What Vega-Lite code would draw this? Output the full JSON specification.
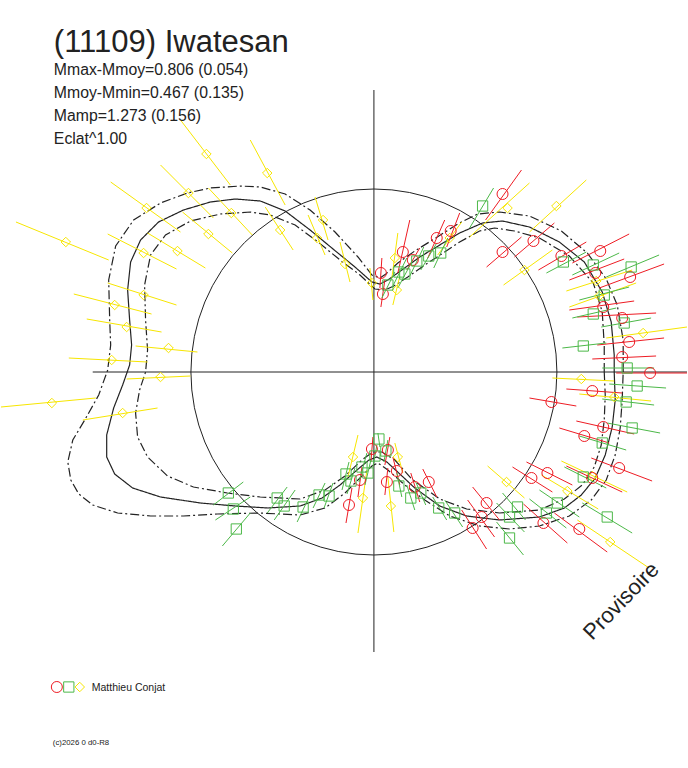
{
  "$schema": "https://vega.github.io/schema/vega-lite/v6.json",
  "width": 688,
  "height": 768,
  "autosize": {"type": "fit", "contains": "padding"},
  "padding": 0,
  "background": "white",
  "config": {"view": {"stroke": null}, "font": "Liberation Sans"},
  "datasets": {
    "obs": [
      {"s":3,"x":-1.68,"y":2.18,"ax":-1.94,"ay":2.52,"bx":-1.44,"by":1.87},
      {"s":3,"x":-1.07,"y":1.99,"ax":-1.24,"ay":2.32,"bx":-0.89,"by":1.67},
      {"s":3,"x":-1.86,"y":1.79,"ax":-2.14,"ay":2.07,"bx":-1.61,"by":1.54},
      {"s":3,"x":-2.28,"y":1.64,"ax":-2.64,"ay":1.90,"bx":-1.94,"by":1.40},
      {"s":3,"x":-3.09,"y":1.30,"ax":-3.59,"ay":1.50,"bx":-2.66,"by":1.12},
      {"s":3,"x":-1.43,"y":1.59,"ax":-1.66,"ay":1.84,"bx":-1.22,"by":1.37},
      {"s":3,"x":-1.66,"y":1.38,"ax":-1.92,"ay":1.60,"bx":-1.42,"by":1.19},
      {"s":3,"x":-2.31,"y":1.19,"ax":-2.67,"ay":1.38,"bx":-1.98,"by":1.03},
      {"s":3,"x":-1.97,"y":1.21,"ax":-2.27,"ay":1.39,"bx":-1.69,"by":1.04},
      {"s":3,"x":-0.94,"y":1.42,"ax":-1.09,"ay":1.65,"bx":-0.81,"by":1.22},
      {"s":3,"x":-0.51,"y":1.52,"ax":-0.59,"ay":1.75,"bx":-0.46,"by":1.32},
      {"s":3,"x":-0.57,"y":1.34,"ax":-0.66,"ay":1.57,"bx":-0.49,"by":1.17},
      {"s":3,"x":-0.29,"y":1.08,"ax":-0.34,"ay":1.30,"bx":-0.24,"by":0.90},
      {"s":3,"x":-0.02,"y":0.89,"ax":-0.04,"ay":1.04,"bx":-0.01,"by":0.72},
      {"s":3,"x":-2.31,"y":0.77,"ax":-2.67,"ay":0.89,"bx":-1.98,"by":0.67},
      {"s":3,"x":-2.60,"y":0.67,"ax":-3.01,"ay":0.78,"bx":-2.23,"by":0.58},
      {"s":3,"x":-2.48,"y":0.45,"ax":-2.88,"ay":0.53,"bx":-2.13,"by":0.40},
      {"s":3,"x":-2.06,"y":0.24,"ax":-2.39,"ay":0.26,"bx":-1.77,"by":0.20},
      {"s":3,"x":-2.63,"y":0.12,"ax":-3.06,"ay":0.14,"bx":-2.27,"by":0.10},
      {"s":3,"x":-2.14,"y":-0.05,"ax":-2.48,"ay":-0.07,"bx":-1.84,"by":-0.04},
      {"s":3,"x":-3.23,"y":-0.31,"ax":-3.74,"ay":-0.35,"bx":-2.79,"by":-0.26},
      {"s":3,"x":-2.52,"y":-0.41,"ax":-2.92,"ay":-0.48,"bx":-2.17,"by":-0.36},
      {"s":3,"x":0.23,"y":0.82,"ax":0.26,"ay":0.96,"bx":0.19,"by":0.67},
      {"s":3,"x":0.21,"y":1.14,"ax":0.24,"ay":1.39,"bx":0.18,"by":0.94},
      {"s":3,"x":1.34,"y":1.64,"ax":1.56,"ay":1.89,"bx":0.96,"by":1.35},
      {"s":3,"x":0.76,"y":1.34,"ax":0.88,"ay":1.50,"bx":0.64,"by":1.17},
      {"s":3,"x":1.83,"y":1.66,"ax":2.13,"ay":1.92,"bx":1.56,"by":1.40},
      {"s":3,"x":1.51,"y":1.02,"ax":1.79,"ay":1.22,"bx":1.30,"by":0.87},
      {"s":3,"x":2.23,"y":0.91,"ax":1.93,"ay":0.81,"bx":2.59,"by":1.02},
      {"s":3,"x":2.26,"y":0.76,"ax":1.96,"ay":0.65,"bx":2.63,"by":0.89},
      {"s":3,"x":2.70,"y":0.39,"ax":2.33,"ay":0.34,"bx":3.14,"by":0.45},
      {"s":3,"x":2.08,"y":-0.07,"ax":1.79,"ay":-0.06,"bx":2.41,"by":-0.09},
      {"s":3,"x":2.41,"y":-0.25,"ax":2.06,"ay":-0.22,"bx":2.78,"by":-0.29},
      {"s":3,"x":2.19,"y":-1.04,"ax":1.88,"ay":-0.89,"bx":2.54,"by":-1.20},
      {"s":3,"x":1.33,"y":-1.10,"ax":1.14,"ay":-0.94,"bx":1.51,"by":-1.26},
      {"s":3,"x":1.94,"y":-1.19,"ax":1.68,"ay":-1.03,"bx":2.25,"by":-1.37},
      {"s":3,"x":2.37,"y":-1.70,"ax":2.04,"ay":-1.48,"bx":2.76,"by":-1.96},
      {"s":3,"x":-0.21,"y":-0.85,"ax":-0.16,"ay":-0.63,"bx":-0.26,"by":-1.05},
      {"s":3,"x":-0.11,"y":-1.26,"ax":-0.07,"ay":-0.98,"bx":-0.16,"by":-1.61},
      {"s":3,"x":0.24,"y":-0.85,"ax":0.21,"ay":-0.71,"bx":0.29,"by":-1.01},
      {"s":3,"x":0.17,"y":-1.34,"ax":0.14,"ay":-1.05,"bx":0.20,"by":-1.60},
      {"s":1,"x":0.07,"y":0.99,"ax":0.08,"ay":1.14,"bx":0.06,"by":0.84},
      {"s":1,"x":0.09,"y":0.78,"ax":0.11,"ay":0.92,"bx":0.07,"by":0.65},
      {"s":1,"x":0.29,"y":1.20,"ax":0.36,"ay":1.52,"bx":0.24,"by":0.99},
      {"s":1,"x":0.39,"y":1.12,"ax":0.46,"ay":1.24,"bx":0.33,"by":1.02},
      {"s":1,"x":0.63,"y":1.34,"ax":0.71,"ay":1.52,"bx":0.54,"by":1.14},
      {"s":1,"x":0.77,"y":1.41,"ax":0.86,"ay":1.59,"bx":0.73,"by":1.25},
      {"s":1,"x":1.29,"y":1.78,"ax":1.48,"ay":2.02,"bx":1.12,"by":1.52},
      {"s":1,"x":1.29,"y":1.20,"ax":1.48,"ay":1.35,"bx":1.13,"by":1.05},
      {"s":1,"x":1.60,"y":1.31,"ax":1.81,"ay":1.49,"bx":1.41,"by":1.15},
      {"s":1,"x":1.88,"y":1.16,"ax":2.13,"ay":1.30,"bx":1.65,"by":1.02},
      {"s":1,"x":2.27,"y":1.21,"ax":2.56,"ay":1.38,"bx":1.99,"by":1.09},
      {"s":1,"x":2.22,"y":0.99,"ax":2.51,"ay":1.13,"bx":1.96,"by":0.92},
      {"s":1,"x":2.57,"y":0.95,"ax":2.91,"ay":1.08,"bx":2.26,"by":0.84},
      {"s":1,"x":2.30,"y":0.65,"ax":1.96,"ay":0.62,"bx":2.61,"by":0.71},
      {"s":1,"x":2.49,"y":0.54,"ax":2.04,"ay":0.55,"bx":2.83,"by":0.59},
      {"s":1,"x":2.56,"y":0.30,"ax":2.24,"ay":0.27,"bx":2.91,"by":0.34},
      {"s":1,"x":2.49,"y":0.15,"ax":2.19,"ay":0.13,"bx":2.83,"by":0.16},
      {"s":1,"x":2.77,"y":-0.01,"ax":2.43,"ay":-0.01,"bx":3.14,"by":-0.01},
      {"s":1,"x":2.19,"y":-0.19,"ax":1.93,"ay":-0.17,"bx":2.49,"by":-0.21},
      {"s":1,"x":1.78,"y":-0.30,"ax":1.56,"ay":-0.26,"bx":2.03,"by":-0.34},
      {"s":1,"x":2.30,"y":-0.55,"ax":2.03,"ay":-0.49,"bx":2.61,"by":-0.62},
      {"s":1,"x":2.11,"y":-0.64,"ax":1.86,"ay":-0.56,"bx":2.36,"by":-0.71},
      {"s":1,"x":2.46,"y":-0.96,"ax":2.18,"ay":-0.86,"bx":2.79,"by":-1.09},
      {"s":1,"x":2.19,"y":-1.06,"ax":1.93,"ay":-0.94,"bx":2.49,"by":-1.20},
      {"s":1,"x":1.74,"y":-1.01,"ax":1.53,"ay":-0.90,"bx":1.99,"by":-1.13},
      {"s":1,"x":1.58,"y":-1.06,"ax":1.39,"ay":-0.95,"bx":1.79,"by":-1.20},
      {"s":1,"x":2.06,"y":-1.57,"ax":1.81,"ay":-1.41,"bx":2.34,"by":-1.80},
      {"s":1,"x":1.70,"y":-1.51,"ax":1.50,"ay":-1.32,"bx":1.94,"by":-1.71},
      {"s":1,"x":1.13,"y":-1.31,"ax":0.99,"ay":-1.15,"bx":1.26,"by":-1.48},
      {"s":1,"x":1.08,"y":-1.45,"ax":0.94,"ay":-1.28,"bx":1.21,"by":-1.65},
      {"s":1,"x":0.99,"y":-1.56,"ax":0.88,"ay":-1.38,"bx":1.13,"by":-1.77},
      {"s":1,"x":-0.25,"y":-1.33,"ax":-0.22,"ay":-1.16,"bx":-0.28,"by":-1.51},
      {"s":1,"x":-0.14,"y":-1.08,"ax":-0.12,"ay":-0.95,"bx":-0.16,"by":-1.25},
      {"s":1,"x":-0.02,"y":-0.77,"ax":-0.01,"ay":-0.65,"bx":-0.03,"by":-0.90},
      {"s":1,"x":0.14,"y":-0.78,"ax":0.16,"ay":-0.65,"bx":0.11,"by":-0.93},
      {"s":1,"x":0.13,"y":-1.10,"ax":0.14,"ay":-0.96,"bx":0.11,"by":-1.23},
      {"s":1,"x":0.23,"y":-0.99,"ax":0.19,"ay":-0.85,"bx":0.26,"by":-1.13},
      {"s":1,"x":0.41,"y":-1.15,"ax":0.37,"ay":-1.01,"bx":0.46,"by":-1.30},
      {"s":1,"x":0.55,"y":-1.10,"ax":0.49,"ay":-0.97,"bx":0.63,"by":-1.25},
      {"s":2,"x":0.14,"y":0.87,"ax":0.21,"ay":1.00,"bx":0.08,"by":0.74},
      {"s":2,"x":0.25,"y":1.00,"ax":0.33,"ay":1.14,"bx":0.18,"by":0.84},
      {"s":2,"x":0.31,"y":0.98,"ax":0.38,"ay":1.10,"bx":0.24,"by":0.84},
      {"s":2,"x":0.43,"y":1.11,"ax":0.50,"ay":1.25,"bx":0.36,"by":0.96},
      {"s":2,"x":0.55,"y":1.16,"ax":0.63,"ay":1.29,"bx":0.47,"by":1.02},
      {"s":2,"x":0.67,"y":1.19,"ax":0.74,"ay":1.34,"bx":0.60,"by":1.04},
      {"s":2,"x":1.09,"y":1.66,"ax":1.20,"ay":1.84,"bx":0.96,"by":1.44},
      {"s":2,"x":1.90,"y":1.10,"ax":2.13,"ay":1.20,"bx":1.73,"by":0.99},
      {"s":2,"x":2.20,"y":1.07,"ax":2.46,"ay":1.19,"bx":1.99,"by":0.97},
      {"s":2,"x":2.58,"y":1.05,"ax":2.86,"ay":1.17,"bx":2.33,"by":0.95},
      {"s":2,"x":2.31,"y":0.77,"ax":2.56,"ay":0.85,"bx":2.06,"by":0.72},
      {"s":2,"x":2.20,"y":0.58,"ax":2.43,"ay":0.64,"bx":1.99,"by":0.54},
      {"s":2,"x":2.51,"y":0.49,"ax":2.78,"ay":0.54,"bx":2.28,"by":0.45},
      {"s":2,"x":2.10,"y":0.26,"ax":2.33,"ay":0.29,"bx":1.89,"by":0.24},
      {"s":2,"x":2.54,"y":0.04,"ax":2.81,"ay":0.04,"bx":2.29,"by":0.04},
      {"s":2,"x":2.64,"y":-0.14,"ax":2.93,"ay":-0.16,"bx":2.36,"by":-0.12},
      {"s":2,"x":2.53,"y":-0.30,"ax":2.81,"ay":-0.33,"bx":2.29,"by":-0.27},
      {"s":2,"x":2.59,"y":-0.56,"ax":2.87,"ay":-0.61,"bx":2.34,"by":-0.51},
      {"s":2,"x":2.29,"y":-0.71,"ax":2.53,"ay":-0.78,"bx":2.06,"by":-0.64},
      {"s":2,"x":2.10,"y":-1.05,"ax":2.33,"ay":-1.16,"bx":1.91,"by":-0.95},
      {"s":2,"x":1.84,"y":-1.31,"ax":2.06,"ay":-1.45,"bx":1.66,"by":-1.18},
      {"s":2,"x":2.34,"y":-1.45,"ax":2.59,"ay":-1.61,"bx":2.09,"by":-1.31},
      {"s":2,"x":1.73,"y":-1.41,"ax":1.93,"ay":-1.56,"bx":1.56,"by":-1.27},
      {"s":2,"x":1.44,"y":-1.35,"ax":1.52,"ay":-1.48,"bx":1.29,"by":-1.21},
      {"s":2,"x":1.36,"y":-1.45,"ax":1.51,"ay":-1.60,"bx":1.23,"by":-1.31},
      {"s":2,"x":1.36,"y":-1.66,"ax":1.50,"ay":-1.83,"bx":1.23,"by":-1.50},
      {"s":2,"x":0.81,"y":-1.41,"ax":0.89,"ay":-1.55,"bx":0.71,"by":-1.28},
      {"s":2,"x":0.65,"y":-1.36,"ax":0.73,"ay":-1.48,"bx":0.59,"by":-1.25},
      {"s":2,"x":0.47,"y":-1.21,"ax":0.52,"ay":-1.33,"bx":0.42,"by":-1.10},
      {"s":2,"x":0.37,"y":-1.26,"ax":0.41,"ay":-1.38,"bx":0.33,"by":-1.13},
      {"s":2,"x":0.25,"y":-1.14,"ax":0.28,"ay":-1.25,"bx":0.23,"by":-1.01},
      {"s":2,"x":0.12,"y":-0.79,"ax":0.14,"ay":-0.68,"bx":0.10,"by":-0.90},
      {"s":2,"x":0.05,"y":-0.67,"ax":0.04,"ay":-0.61,"bx":0.06,"by":-0.75},
      {"s":2,"x":0.01,"y":-0.84,"ax":0.03,"ay":-0.73,"bx":-0.01,"by":-0.95},
      {"s":2,"x":-0.06,"y":-1.01,"ax":-0.03,"ay":-0.88,"bx":-0.09,"by":-1.13},
      {"s":2,"x":-0.12,"y":-0.95,"ax":-0.07,"ay":-0.81,"bx":-0.15,"by":-1.10},
      {"s":2,"x":-0.23,"y":-1.09,"ax":-0.19,"ay":-0.96,"bx":-0.27,"by":-1.22},
      {"s":2,"x":-0.28,"y":-1.02,"ax":-0.25,"ay":-0.90,"bx":-0.32,"by":-1.18},
      {"s":2,"x":-0.45,"y":-1.24,"ax":-0.41,"ay":-1.11,"bx":-0.50,"by":-1.36},
      {"s":2,"x":-0.55,"y":-1.23,"ax":-0.49,"ay":-1.11,"bx":-0.61,"by":-1.36},
      {"s":2,"x":-0.71,"y":-1.35,"ax":-0.64,"ay":-1.23,"bx":-0.77,"by":-1.50},
      {"s":2,"x":-0.90,"y":-1.34,"ax":-0.79,"ay":-1.18,"bx":-1.00,"by":-1.48},
      {"s":2,"x":-0.97,"y":-1.26,"ax":-0.87,"ay":-1.15,"bx":-1.07,"by":-1.41},
      {"s":2,"x":-1.46,"y":-1.21,"ax":-1.31,"ay":-1.10,"bx":-1.61,"by":-1.33},
      {"s":2,"x":-1.41,"y":-1.37,"ax":-1.24,"ay":-1.25,"bx":-1.59,"by":-1.48},
      {"s":2,"x":-1.38,"y":-1.57,"ax":-1.24,"ay":-1.41,"bx":-1.52,"by":-1.74}
    ],
    "curves": [
      {"c":"mid","i":0,"x":2.41,"y":0},{"c":"mid","i":1,"x":2.41,"y":0.17},{"c":"mid","i":2,"x":2.38,"y":0.50},{"c":"mid","i":3,"x":2.29,"y":0.80},
      {"c":"mid","i":4,"x":2.11,"y":1.10},{"c":"mid","i":5,"x":1.86,"y":1.30},{"c":"mid","i":6,"x":1.56,"y":1.45},{"c":"mid","i":7,"x":1.29,"y":1.51},
      {"c":"mid","i":8,"x":1.09,"y":1.49},{"c":"mid","i":9,"x":0.86,"y":1.39},{"c":"mid","i":10,"x":0.66,"y":1.27},{"c":"mid","i":11,"x":0.46,"y":1.15},
      {"c":"mid","i":12,"x":0.28,"y":1.02},{"c":"mid","i":13,"x":0.14,"y":0.92},{"c":"mid","i":14,"x":0.06,"y":0.88},{"c":"mid","i":15,"x":-0.02,"y":0.90},
      {"c":"mid","i":16,"x":-0.19,"y":1.05},{"c":"mid","i":17,"x":-0.41,"y":1.23},{"c":"mid","i":18,"x":-0.64,"y":1.42},{"c":"mid","i":19,"x":-0.89,"y":1.61},
      {"c":"mid","i":20,"x":-1.14,"y":1.71},{"c":"mid","i":21,"x":-1.39,"y":1.73},{"c":"mid","i":22,"x":-1.64,"y":1.70},{"c":"mid","i":23,"x":-1.91,"y":1.62},
      {"c":"mid","i":24,"x":-2.16,"y":1.50},{"c":"mid","i":25,"x":-2.34,"y":1.32},{"c":"mid","i":26,"x":-2.44,"y":1.10},{"c":"mid","i":27,"x":-2.47,"y":0.82},
      {"c":"mid","i":28,"x":-2.45,"y":0.52},{"c":"mid","i":29,"x":-2.43,"y":0.27},{"c":"mid","i":30,"x":-2.45,"y":0.07},{"c":"mid","i":31,"x":-2.52,"y":-0.13},
      {"c":"mid","i":32,"x":-2.61,"y":-0.36},{"c":"mid","i":33,"x":-2.68,"y":-0.63},{"c":"mid","i":34,"x":-2.68,"y":-0.85},{"c":"mid","i":35,"x":-2.60,"y":-1.02},
      {"c":"mid","i":36,"x":-2.42,"y":-1.16},{"c":"mid","i":37,"x":-2.14,"y":-1.25},{"c":"mid","i":38,"x":-1.74,"y":-1.31},{"c":"mid","i":39,"x":-1.39,"y":-1.34},
      {"c":"mid","i":40,"x":-1.06,"y":-1.36},{"c":"mid","i":41,"x":-0.74,"y":-1.34},{"c":"mid","i":42,"x":-0.52,"y":-1.26},{"c":"mid","i":43,"x":-0.34,"y":-1.13},
      {"c":"mid","i":44,"x":-0.17,"y":-0.98},{"c":"mid","i":45,"x":-0.05,"y":-0.88},{"c":"mid","i":46,"x":0.03,"y":-0.85},{"c":"mid","i":47,"x":0.13,"y":-0.90},
      {"c":"mid","i":48,"x":0.26,"y":-1.02},{"c":"mid","i":49,"x":0.41,"y":-1.16},{"c":"mid","i":50,"x":0.66,"y":-1.34},{"c":"mid","i":51,"x":0.93,"y":-1.44},
      {"c":"mid","i":52,"x":1.26,"y":-1.48},{"c":"mid","i":53,"x":1.66,"y":-1.45},{"c":"mid","i":54,"x":1.91,"y":-1.36},{"c":"mid","i":55,"x":2.08,"y":-1.23},
      {"c":"mid","i":56,"x":2.22,"y":-1.06},{"c":"mid","i":57,"x":2.32,"y":-0.83},{"c":"mid","i":58,"x":2.39,"y":-0.55},{"c":"mid","i":59,"x":2.42,"y":-0.28},
      {"c":"mid","i":60,"x":2.41,"y":0},
      {"c":"hi","i":0,"x":2.50,"y":0},{"c":"hi","i":1,"x":2.50,"y":0.32},{"c":"hi","i":2,"x":2.44,"y":0.67},{"c":"hi","i":3,"x":2.33,"y":0.93},
      {"c":"hi","i":4,"x":2.14,"y":1.19},{"c":"hi","i":5,"x":1.88,"y":1.41},{"c":"hi","i":6,"x":1.56,"y":1.56},{"c":"hi","i":7,"x":1.26,"y":1.60},
      {"c":"hi","i":8,"x":1.04,"y":1.58},{"c":"hi","i":9,"x":0.84,"y":1.48},{"c":"hi","i":10,"x":0.62,"y":1.34},{"c":"hi","i":11,"x":0.41,"y":1.21},
      {"c":"hi","i":12,"x":0.24,"y":1.09},{"c":"hi","i":13,"x":0.12,"y":0.98},{"c":"hi","i":14,"x":0.06,"y":0.94},{"c":"hi","i":15,"x":-0.02,"y":0.97},
      {"c":"hi","i":16,"x":-0.16,"y":1.15},{"c":"hi","i":17,"x":-0.39,"y":1.40},{"c":"hi","i":18,"x":-0.64,"y":1.62},{"c":"hi","i":19,"x":-0.89,"y":1.78},
      {"c":"hi","i":20,"x":-1.14,"y":1.85},{"c":"hi","i":21,"x":-1.34,"y":1.86},{"c":"hi","i":22,"x":-1.64,"y":1.84},{"c":"hi","i":23,"x":-1.87,"y":1.79},
      {"c":"hi","i":24,"x":-2.14,"y":1.69},{"c":"hi","i":25,"x":-2.41,"y":1.52},{"c":"hi","i":26,"x":-2.59,"y":1.26},{"c":"hi","i":27,"x":-2.66,"y":0.92},
      {"c":"hi","i":28,"x":-2.65,"y":0.52},{"c":"hi","i":29,"x":-2.64,"y":0.27},{"c":"hi","i":30,"x":-2.67,"y":0.02},{"c":"hi","i":31,"x":-2.76,"y":-0.23},
      {"c":"hi","i":32,"x":-2.90,"y":-0.48},{"c":"hi","i":33,"x":-3.02,"y":-0.68},{"c":"hi","i":34,"x":-3.07,"y":-0.90},{"c":"hi","i":35,"x":-3.04,"y":-1.08},
      {"c":"hi","i":36,"x":-2.96,"y":-1.22},{"c":"hi","i":37,"x":-2.82,"y":-1.33},{"c":"hi","i":38,"x":-2.57,"y":-1.41},{"c":"hi","i":39,"x":-2.24,"y":-1.44},
      {"c":"hi","i":40,"x":-1.91,"y":-1.44},{"c":"hi","i":41,"x":-1.57,"y":-1.42},{"c":"hi","i":42,"x":-1.14,"y":-1.41},{"c":"hi","i":43,"x":-0.74,"y":-1.43},
      {"c":"hi","i":44,"x":-0.49,"y":-1.36},{"c":"hi","i":45,"x":-0.29,"y":-1.21},{"c":"hi","i":46,"x":-0.12,"y":-1.04},{"c":"hi","i":47,"x":-0.02,"y":-0.94},
      {"c":"hi","i":48,"x":0.04,"y":-0.91},{"c":"hi","i":49,"x":0.14,"y":-0.98},{"c":"hi","i":50,"x":0.31,"y":-1.13},{"c":"hi","i":51,"x":0.51,"y":-1.28},
      {"c":"hi","i":52,"x":0.76,"y":-1.44},{"c":"hi","i":53,"x":1.06,"y":-1.54},{"c":"hi","i":54,"x":1.36,"y":-1.57},{"c":"hi","i":55,"x":1.66,"y":-1.54},
      {"c":"hi","i":56,"x":1.96,"y":-1.44},{"c":"hi","i":57,"x":2.18,"y":-1.28},{"c":"hi","i":58,"x":2.33,"y":-1.08},{"c":"hi","i":59,"x":2.42,"y":-0.83},
      {"c":"hi","i":60,"x":2.47,"y":-0.56},{"c":"hi","i":61,"x":2.49,"y":-0.28},{"c":"hi","i":62,"x":2.50,"y":0},
      {"c":"lo","i":0,"x":2.31,"y":0},{"c":"lo","i":1,"x":2.31,"y":0.27},{"c":"lo","i":2,"x":2.29,"y":0.60},{"c":"lo","i":3,"x":2.20,"y":0.89},
      {"c":"lo","i":4,"x":1.96,"y":1.16},{"c":"lo","i":5,"x":1.66,"y":1.34},{"c":"lo","i":6,"x":1.41,"y":1.41},{"c":"lo","i":7,"x":1.21,"y":1.44},
      {"c":"lo","i":8,"x":1.06,"y":1.41},{"c":"lo","i":9,"x":0.86,"y":1.30},{"c":"lo","i":10,"x":0.68,"y":1.18},{"c":"lo","i":11,"x":0.51,"y":1.07},
      {"c":"lo","i":12,"x":0.34,"y":0.95},{"c":"lo","i":13,"x":0.20,"y":0.86},{"c":"lo","i":14,"x":0.11,"y":0.82},{"c":"lo","i":15,"x":0.01,"y":0.83},
      {"c":"lo","i":16,"x":-0.14,"y":0.97},{"c":"lo","i":17,"x":-0.34,"y":1.12},{"c":"lo","i":18,"x":-0.56,"y":1.30},{"c":"lo","i":19,"x":-0.79,"y":1.47},
      {"c":"lo","i":20,"x":-1.04,"y":1.57},{"c":"lo","i":21,"x":-1.24,"y":1.60},{"c":"lo","i":22,"x":-1.54,"y":1.58},{"c":"lo","i":23,"x":-1.84,"y":1.51},
      {"c":"lo","i":24,"x":-2.09,"y":1.37},{"c":"lo","i":25,"x":-2.24,"y":1.17},{"c":"lo","i":26,"x":-2.30,"y":0.87},{"c":"lo","i":27,"x":-2.29,"y":0.52},
      {"c":"lo","i":28,"x":-2.27,"y":0.22},{"c":"lo","i":29,"x":-2.29,"y":0},{"c":"lo","i":30,"x":-2.35,"y":-0.18},{"c":"lo","i":31,"x":-2.39,"y":-0.41},
      {"c":"lo","i":32,"x":-2.37,"y":-0.65},{"c":"lo","i":33,"x":-2.27,"y":-0.85},{"c":"lo","i":34,"x":-2.07,"y":-1.04},{"c":"lo","i":35,"x":-1.81,"y":-1.15},
      {"c":"lo","i":36,"x":-1.47,"y":-1.21},{"c":"lo","i":37,"x":-1.14,"y":-1.25},{"c":"lo","i":38,"x":-0.74,"y":-1.27},{"c":"lo","i":39,"x":-0.49,"y":-1.18},
      {"c":"lo","i":40,"x":-0.29,"y":-1.04},{"c":"lo","i":41,"x":-0.12,"y":-0.88},{"c":"lo","i":42,"x":-0.01,"y":-0.80},{"c":"lo","i":43,"x":0.08,"y":-0.80},
      {"c":"lo","i":44,"x":0.21,"y":-0.88},{"c":"lo","i":45,"x":0.38,"y":-1.07},{"c":"lo","i":46,"x":0.66,"y":-1.27},{"c":"lo","i":47,"x":0.93,"y":-1.37},
      {"c":"lo","i":48,"x":1.26,"y":-1.41},{"c":"lo","i":49,"x":1.66,"y":-1.38},{"c":"lo","i":50,"x":1.91,"y":-1.27},{"c":"lo","i":51,"x":2.09,"y":-1.13},
      {"c":"lo","i":52,"x":2.21,"y":-0.95},{"c":"lo","i":53,"x":2.28,"y":-0.73},{"c":"lo","i":54,"x":2.31,"y":-0.48},{"c":"lo","i":55,"x":2.32,"y":-0.23},
      {"c":"lo","i":56,"x":2.31,"y":0}
    ],
    "legend": [{"s":1,"x":-3.18},{"s":2,"x":-3.06},{"s":3,"x":-2.95}]
  },
  "layer": [
    {
      "data": {"values": [{}]},
      "mark": {"type": "rule", "color": "#222", "strokeWidth": 1},
      "encoding": {
        "x": {"datum": -2.82, "type": "quantitative", "scale": {"domain": [-3.74, 3.14], "nice": false, "zero": false}, "axis": null},
        "x2": {"datum": 3.14},
        "y": {"datum": 0, "type": "quantitative", "scale": {"domain": [-3.96, 3.72], "nice": false, "zero": false}, "axis": null}
      }
    },
    {
      "data": {"values": [{}]},
      "mark": {"type": "rule", "color": "#222", "strokeWidth": 1},
      "encoding": {
        "x": {"datum": 0, "type": "quantitative", "scale": {"domain": [-3.74, 3.14], "nice": false, "zero": false}, "axis": null},
        "y": {"datum": 2.82, "type": "quantitative", "scale": {"domain": [-3.96, 3.72], "nice": false, "zero": false}, "axis": null},
        "y2": {"datum": -2.8}
      }
    },
    {
      "data": {"values": [{}]},
      "mark": {"type": "point", "shape": "circle", "filled": false, "size": 133956, "stroke": "#222", "strokeWidth": 1, "opacity": 1},
      "encoding": {
        "x": {"datum": 0, "type": "quantitative", "scale": {"domain": [-3.74, 3.14], "nice": false, "zero": false}, "axis": null},
        "y": {"datum": 0, "type": "quantitative", "scale": {"domain": [-3.96, 3.72], "nice": false, "zero": false}, "axis": null}
      }
    },
    {
      "data": {"name": "curves"},
      "mark": {"type": "line", "color": "#222", "strokeWidth": 1.2},
      "encoding": {
        "x": {"field": "x", "type": "quantitative", "scale": {"domain": [-3.74, 3.14], "nice": false, "zero": false}, "axis": null},
        "y": {"field": "y", "type": "quantitative", "scale": {"domain": [-3.96, 3.72], "nice": false, "zero": false}, "axis": null},
        "order": {"field": "i", "type": "quantitative"},
        "strokeDash": {"field": "c", "type": "nominal", "scale": {"domain": ["mid", "hi", "lo"], "range": [[1, 0], [9, 3, 2, 3], [9, 3, 2, 3]]}, "legend": null}
      }
    },
    {
      "data": {"name": "obs"},
      "mark": {"type": "rule", "strokeWidth": 1},
      "encoding": {
        "x": {"field": "ax", "type": "quantitative", "scale": {"domain": [-3.74, 3.14], "nice": false, "zero": false}, "axis": null},
        "y": {"field": "ay", "type": "quantitative", "scale": {"domain": [-3.96, 3.72], "nice": false, "zero": false}, "axis": null},
        "x2": {"field": "bx"},
        "y2": {"field": "by"},
        "color": {"field": "s", "type": "nominal", "scale": {"domain": [1, 2, 3], "range": ["#ee1c24", "#4cb848", "#f7e600"]}, "legend": null}
      }
    },
    {
      "data": {"name": "obs"},
      "mark": {"type": "point", "filled": false, "strokeWidth": 1, "opacity": 1},
      "encoding": {
        "x": {"field": "x", "type": "quantitative", "scale": {"domain": [-3.74, 3.14], "nice": false, "zero": false}, "axis": null},
        "y": {"field": "y", "type": "quantitative", "scale": {"domain": [-3.96, 3.72], "nice": false, "zero": false}, "axis": null},
        "color": {"field": "s", "type": "nominal", "scale": {"domain": [1, 2, 3], "range": ["#ee1c24", "#4cb848", "#f7e600"]}, "legend": null},
        "shape": {"field": "s", "type": "nominal", "scale": {"domain": [1, 2, 3], "range": ["circle", "square", "diamond"]}, "legend": null},
        "size": {"field": "s", "type": "nominal", "scale": {"domain": [1, 2, 3], "range": [121, 90, 144]}, "legend": null}
      }
    },
    {
      "data": {"name": "legend"},
      "mark": {"type": "point", "filled": false, "strokeWidth": 1, "opacity": 1},
      "encoding": {
        "x": {"field": "x", "type": "quantitative", "scale": {"domain": [-3.74, 3.14], "nice": false, "zero": false}, "axis": null},
        "y": {"datum": -3.15, "type": "quantitative", "scale": {"domain": [-3.96, 3.72], "nice": false, "zero": false}, "axis": null},
        "color": {"field": "s", "type": "nominal", "scale": {"domain": [1, 2, 3], "range": ["#ee1c24", "#4cb848", "#f7e600"]}, "legend": null},
        "shape": {"field": "s", "type": "nominal", "scale": {"domain": [1, 2, 3], "range": ["circle", "square", "diamond"]}, "legend": null},
        "size": {"field": "s", "type": "nominal", "scale": {"domain": [1, 2, 3], "range": [121, 90, 144]}, "legend": null}
      }
    },
    {
      "data": {"values": [{}]},
      "mark": {"type": "text", "align": "left", "baseline": "alphabetic", "fontSize": 31, "color": "#222"},
      "encoding": {
        "x": {"datum": -3.21, "type": "quantitative", "scale": {"domain": [-3.74, 3.14], "nice": false, "zero": false}, "axis": null},
        "y": {"datum": 3.2, "type": "quantitative", "scale": {"domain": [-3.96, 3.72], "nice": false, "zero": false}, "axis": null},
        "text": {"value": "(11109) Iwatesan"}
      }
    },
    {
      "data": {"values": [{}]},
      "mark": {"type": "text", "align": "left", "baseline": "alphabetic", "fontSize": 15.8, "lineHeight": 23, "lineBreak": "\n", "color": "#222"},
      "encoding": {
        "x": {"datum": -3.21, "type": "quantitative", "scale": {"domain": [-3.74, 3.14], "nice": false, "zero": false}, "axis": null},
        "y": {"datum": 2.97, "type": "quantitative", "scale": {"domain": [-3.96, 3.72], "nice": false, "zero": false}, "axis": null},
        "text": {"value": "Mmax-Mmoy=0.806 (0.054)\nMmoy-Mmin=0.467 (0.135)\nMamp=1.273 (0.156)\nEclat^1.00"}
      }
    },
    {
      "data": {"values": [{}]},
      "mark": {"type": "text", "align": "left", "baseline": "alphabetic", "fontSize": 22, "angle": -46, "color": "#222"},
      "encoding": {
        "x": {"datum": 2.19, "type": "quantitative", "scale": {"domain": [-3.74, 3.14], "nice": false, "zero": false}, "axis": null},
        "y": {"datum": -2.69, "type": "quantitative", "scale": {"domain": [-3.96, 3.72], "nice": false, "zero": false}, "axis": null},
        "text": {"value": "Provisoire"}
      }
    },
    {
      "data": {"values": [{}]},
      "mark": {"type": "text", "align": "left", "baseline": "alphabetic", "fontSize": 10.5, "color": "#222"},
      "encoding": {
        "x": {"datum": -2.83, "type": "quantitative", "scale": {"domain": [-3.74, 3.14], "nice": false, "zero": false}, "axis": null},
        "y": {"datum": -3.19, "type": "quantitative", "scale": {"domain": [-3.96, 3.72], "nice": false, "zero": false}, "axis": null},
        "text": {"value": "Matthieu Conjat"}
      }
    },
    {
      "data": {"values": [{}]},
      "mark": {"type": "text", "align": "left", "baseline": "alphabetic", "fontSize": 7.8, "color": "#222"},
      "encoding": {
        "x": {"datum": -3.22, "type": "quantitative", "scale": {"domain": [-3.74, 3.14], "nice": false, "zero": false}, "axis": null},
        "y": {"datum": -3.73, "type": "quantitative", "scale": {"domain": [-3.96, 3.72], "nice": false, "zero": false}, "axis": null},
        "text": {"value": "(c)2026 0 d0-R8"}
      }
    }
  ]
}
